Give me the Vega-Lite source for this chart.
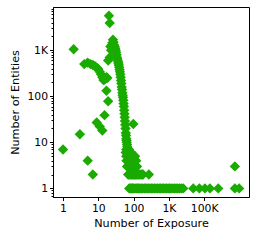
{
  "$schema": "https://vega.github.io/schema/vega-lite/v6.json",
  "autosize": "none",
  "padding": {"left": 53, "top": 7, "right": 8, "bottom": 44},
  "width": 196,
  "height": 190,
  "background": "white",
  "data": {
    "values": [
      {"x": 1, "y": 7}, {"x": 2, "y": 1050}, {"x": 3, "y": 15}, {"x": 5, "y": 4}, {"x": 7, "y": 2},
      {"x": 4, "y": 500}, {"x": 5, "y": 540}, {"x": 6, "y": 500}, {"x": 7, "y": 480}, {"x": 8, "y": 450},
      {"x": 9, "y": 420}, {"x": 10, "y": 390}, {"x": 11, "y": 340}, {"x": 12, "y": 300}, {"x": 13, "y": 260},
      {"x": 14, "y": 225}, {"x": 15, "y": 230}, {"x": 16, "y": 245}, {"x": 17, "y": 260}, {"x": 18, "y": 250},
      {"x": 9, "y": 27}, {"x": 11, "y": 22}, {"x": 13, "y": 18}, {"x": 15, "y": 39}, {"x": 17, "y": 132}, {"x": 19, "y": 78},
      {"x": 20, "y": 5600}, {"x": 21, "y": 3900},
      {"x": 19, "y": 600}, {"x": 21, "y": 700}, {"x": 22, "y": 1200}, {"x": 23, "y": 1000}, {"x": 24, "y": 1300},
      {"x": 25, "y": 1450}, {"x": 26, "y": 1700}, {"x": 27, "y": 1500}, {"x": 28, "y": 1300}, {"x": 29, "y": 1200},
      {"x": 30, "y": 1100}, {"x": 31, "y": 1000}, {"x": 32, "y": 900}, {"x": 33, "y": 800}, {"x": 34, "y": 700},
      {"x": 35, "y": 640}, {"x": 36, "y": 580}, {"x": 37, "y": 530}, {"x": 38, "y": 480}, {"x": 39, "y": 430},
      {"x": 40, "y": 380}, {"x": 41, "y": 340}, {"x": 42, "y": 300}, {"x": 43, "y": 260}, {"x": 44, "y": 220},
      {"x": 45, "y": 190}, {"x": 46, "y": 160}, {"x": 47, "y": 140}, {"x": 48, "y": 120}, {"x": 49, "y": 105},
      {"x": 50, "y": 95}, {"x": 51, "y": 82}, {"x": 52, "y": 70}, {"x": 53, "y": 60}, {"x": 54, "y": 50},
      {"x": 55, "y": 42}, {"x": 56, "y": 35}, {"x": 57, "y": 29}, {"x": 58, "y": 24}, {"x": 59, "y": 20},
      {"x": 60, "y": 16}, {"x": 61, "y": 14}, {"x": 62, "y": 12}, {"x": 63, "y": 11}, {"x": 64, "y": 10},
      {"x": 65, "y": 9}, {"x": 66, "y": 8},
      {"x": 98, "y": 25},
      {"x": 62, "y": 7}, {"x": 66, "y": 7}, {"x": 70, "y": 7}, {"x": 74, "y": 7},
      {"x": 60, "y": 6}, {"x": 64, "y": 6}, {"x": 68, "y": 6}, {"x": 72, "y": 6}, {"x": 76, "y": 6}, {"x": 80, "y": 6}, {"x": 85, "y": 6},
      {"x": 62, "y": 5}, {"x": 66, "y": 5}, {"x": 70, "y": 5}, {"x": 75, "y": 5}, {"x": 80, "y": 5}, {"x": 85, "y": 5},
      {"x": 90, "y": 5}, {"x": 95, "y": 5}, {"x": 100, "y": 5}, {"x": 110, "y": 5},
      {"x": 63, "y": 4}, {"x": 68, "y": 4}, {"x": 73, "y": 4}, {"x": 78, "y": 4}, {"x": 84, "y": 4}, {"x": 90, "y": 4},
      {"x": 96, "y": 4}, {"x": 103, "y": 4}, {"x": 110, "y": 4}, {"x": 118, "y": 4},
      {"x": 65, "y": 3}, {"x": 70, "y": 3}, {"x": 76, "y": 3}, {"x": 82, "y": 3}, {"x": 88, "y": 3}, {"x": 95, "y": 3},
      {"x": 102, "y": 3}, {"x": 110, "y": 3}, {"x": 118, "y": 3}, {"x": 125, "y": 3},
      {"x": 70, "y": 2}, {"x": 75, "y": 2}, {"x": 80, "y": 2}, {"x": 86, "y": 2}, {"x": 92, "y": 2}, {"x": 98, "y": 2},
      {"x": 105, "y": 2}, {"x": 112, "y": 2}, {"x": 120, "y": 2}, {"x": 130, "y": 2}, {"x": 140, "y": 2}, {"x": 150, "y": 2},
      {"x": 162, "y": 2}, {"x": 175, "y": 2}, {"x": 185, "y": 2}, {"x": 270, "y": 2},
      {"x": 75, "y": 1}, {"x": 80, "y": 1}, {"x": 85, "y": 1}, {"x": 90, "y": 1}, {"x": 95, "y": 1}, {"x": 100, "y": 1},
      {"x": 110, "y": 1}, {"x": 120, "y": 1}, {"x": 130, "y": 1}, {"x": 140, "y": 1}, {"x": 150, "y": 1}, {"x": 165, "y": 1},
      {"x": 180, "y": 1}, {"x": 200, "y": 1}, {"x": 220, "y": 1}, {"x": 240, "y": 1}, {"x": 260, "y": 1}, {"x": 290, "y": 1},
      {"x": 320, "y": 1}, {"x": 350, "y": 1}, {"x": 390, "y": 1}, {"x": 430, "y": 1}, {"x": 480, "y": 1}, {"x": 530, "y": 1},
      {"x": 580, "y": 1}, {"x": 640, "y": 1}, {"x": 700, "y": 1}, {"x": 780, "y": 1}, {"x": 860, "y": 1}, {"x": 950, "y": 1},
      {"x": 1050, "y": 1}, {"x": 1150, "y": 1}, {"x": 1300, "y": 1}, {"x": 1450, "y": 1}, {"x": 1600, "y": 1}, {"x": 1800, "y": 1},
      {"x": 2000, "y": 1}, {"x": 2250, "y": 1}, {"x": 2550, "y": 1}, {"x": 4900, "y": 1}, {"x": 7300, "y": 1},
      {"x": 10500, "y": 1}, {"x": 14500, "y": 1}, {"x": 25000, "y": 1}, {"x": 74000, "y": 1}, {"x": 98000, "y": 1},
      {"x": 74000, "y": 3}
    ]
  },
  "encoding": {
    "x": {
      "field": "x", "type": "quantitative",
      "scale": {"type": "log", "domain": [0.52, 186000], "nice": false},
      "axis": {
        "title": "Number of Exposure",
        "values": [1, 10, 100, 1000, 10000],
        "labelExpr": "datum.value >= 10000 ? '100K' : datum.value >= 1000 ? '1K' : format(datum.value, 'd')"
      }
    }
  },
  "layer": [
    {
      "mark": {"type": "point", "shape": "diamond", "filled": true, "size": 108, "color": "#1aab00", "opacity": 1, "strokeWidth": 0},
      "encoding": {
        "y": {
          "field": "y", "type": "quantitative",
          "scale": {"type": "log", "domain": [0.65, 8700], "nice": false},
          "axis": {
            "title": "Number of Entities",
            "values": [1, 10, 100, 1000],
            "labelExpr": "datum.value >= 1000 ? '1K' : format(datum.value, 'd')",
            "titlePadding": 6
          }
        }
      }
    },
    {
      "mark": {"type": "point", "opacity": 0},
      "encoding": {
        "y": {
          "field": "y", "type": "quantitative",
          "scale": {"type": "log", "domain": [0.65, 8700], "nice": false},
          "axis": {
            "orient": "left",
            "title": null,
            "labels": false,
            "domain": false,
            "tickSize": 2,
            "values": [0.7, 0.8, 0.9, 2, 3, 4, 5, 6, 7, 8, 9, 20, 30, 40, 50, 60, 70, 80, 90, 200, 300, 400, 500, 600, 700, 800, 900, 2000, 3000, 4000, 5000, 6000, 7000, 8000]
          }
        }
      }
    }
  ],
  "resolve": {"axis": {"y": "independent"}},
  "config": {
    "view": {"stroke": "black", "strokeWidth": 1},
    "axis": {
      "grid": false,
      "domainColor": "black",
      "tickColor": "black",
      "labelColor": "black",
      "titleColor": "black",
      "labelFont": "DejaVu Sans",
      "titleFont": "DejaVu Sans",
      "labelFontSize": 10.8,
      "titleFontSize": 11.2,
      "titleFontWeight": "normal",
      "tickSize": 3.5,
      "labelPadding": 2
    }
  }
}
